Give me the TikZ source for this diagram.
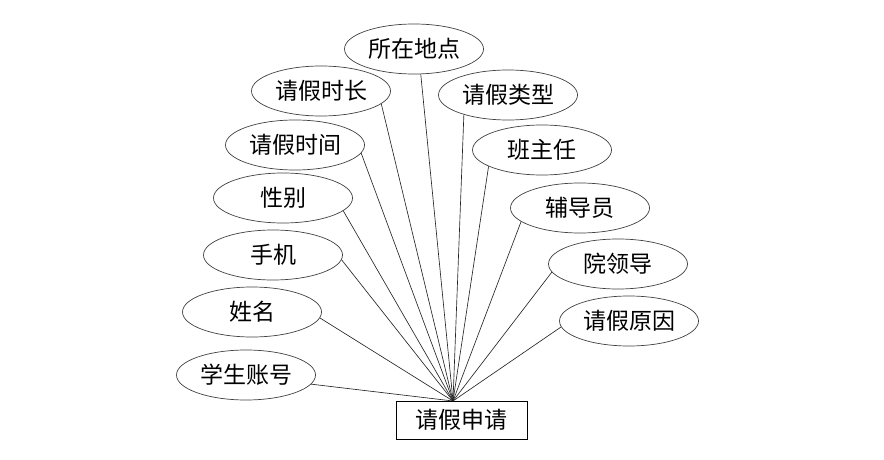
\documentclass[tikz,border=0pt]{standalone}
\usepackage{fontspec}
\setmainfont{Noto Sans CJK SC}
\usetikzlibrary{shapes.geometric}
\tikzset{
  attr/.style={draw=black!75, ellipse, line width=0.7pt, minimum width=139pt, minimum height=50pt,
               inner sep=0pt, font=\fontsize{23}{27}\selectfont},
  entity/.style={draw, line width=0.8pt, minimum width=131pt, minimum height=38pt,
                 inner sep=0pt, font=\fontsize{23}{27}\selectfont},
  link/.style={line width=0.65pt, black!85},
}
\begin{document}
\begin{tikzpicture}[x=1pt, y=-1pt]
        \useasboundingbox (0,0) rectangle (884,460);
        \node[entity] (req) at (461.5,420) {请假申请};
        \coordinate (hub) at (453,401);
        % attributes, left side
        \node[attr] (place) at (414,49) {所在地点};
        \node[attr] (dur) at (321,91) {请假时长};
        \node[attr] (time) at (295,145) {请假时间};
        \node[attr] (sex) at (283,198) {性别};
        \node[attr] (phone) at (273,255) {手机};
        \node[attr] (name) at (252,312) {姓名};
        \node[attr] (acct) at (246,375) {学生账号};
        % attributes, right side
        \node[attr] (type) at (508,95) {请假类型};
        \node[attr] (head) at (542,150) {班主任};
        \node[attr] (tutor) at (580,208) {辅导员};
        \node[attr] (dean) at (618,264) {院领导};
        \node[attr] (reason) at (629,321) {请假原因};
        \draw[link] (place.-75) -- (hub); \draw[link] (dur.-12) -- (hub);
        \draw[link] (time.-7) -- (hub); \draw[link] (sex.-12) -- (hub);
        \draw[link] (phone.-4) -- (hub); \draw[link] (name.-5) -- (hub);
        \draw[link] (acct.-8) -- (hub);
        \draw[link] (type.-156) -- (hub); \draw[link] (head.-163) -- (hub);
        \draw[link] (tutor.-167) -- (hub); \draw[link] (dean.-173) -- (hub);
        \draw[link] (reason.-175) -- (hub);
      \end{tikzpicture}
\end{document}
